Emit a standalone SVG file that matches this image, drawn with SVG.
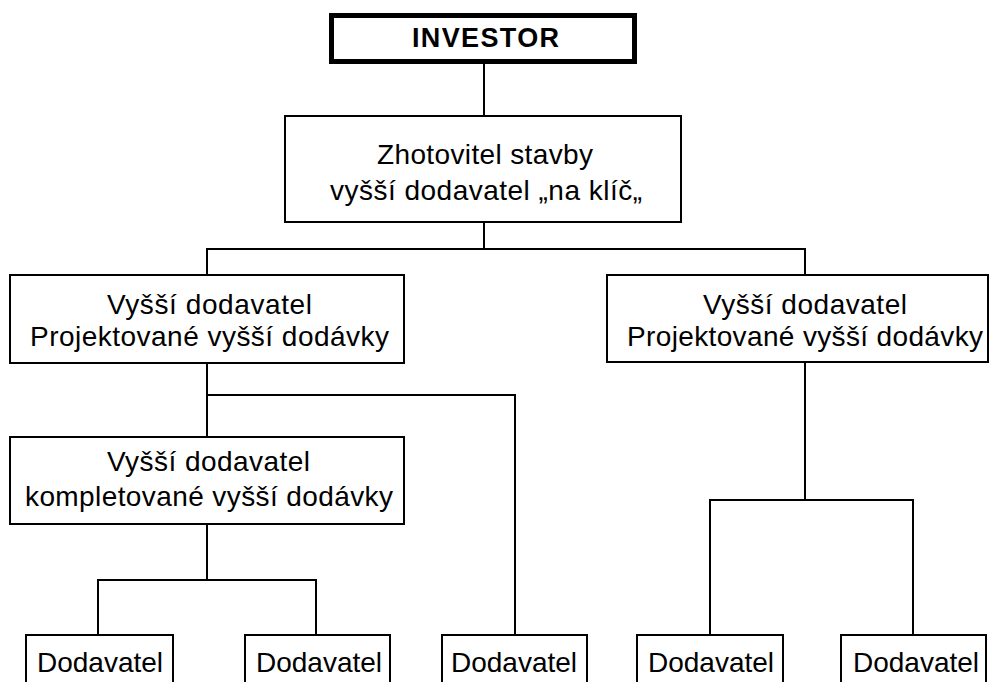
<svg xmlns="http://www.w3.org/2000/svg" width="990" height="682" viewBox="0 0 990 682">
  <style>
    .box { fill: #ffffff; stroke: #000000; stroke-width: 2; }
    .box-main { fill: #ffffff; stroke: #000000; stroke-width: 5; }
    .lbl { font-family: "Liberation Sans", Arial, sans-serif; font-size: 28px; fill: #000000; text-anchor: middle; }
    .lbl-bold { font-family: "Liberation Sans", Arial, sans-serif; font-size: 27px; font-weight: bold; fill: #000000; text-anchor: middle; }
    .conn { fill: none; stroke: #000000; stroke-width: 2; }
  </style>
  <rect x="0" y="0" width="990" height="682" fill="#ffffff"/>

  <!-- connectors -->
  <g id="connectors">
    <path class="conn" d="M484 64 V116"/>
    <path class="conn" d="M484 222 V249 M207 275 V249 H805 V275"/>
    <path class="conn" d="M207 363 V437 M207 395 H515 V635"/>
    <path class="conn" d="M207 524 V580 M98 635 V580 H316 V635"/>
    <path class="conn" d="M805 362 V500 M710 635 V500 H913 V635"/>
  </g>

  <g id="investor">
    <rect class="box-main" x="331.5" y="15.5" width="303" height="46"/>
    <text class="lbl-bold" x="485.5" y="47" textLength="147" lengthAdjust="spacing">INVESTOR</text>
  </g>

  <g id="zhotovitel">
    <rect class="box" x="285" y="116" width="396" height="106"/>
    <text class="lbl" x="485" y="164" textLength="216" lengthAdjust="spacing">Zhotovitel stavby</text>
    <text class="lbl" x="486" y="200" textLength="312" lengthAdjust="spacing">vyšší dodavatel „na klíč„</text>
  </g>

  <g id="vyssi-left">
    <rect class="box" x="10" y="275" width="394" height="88"/>
    <text class="lbl" x="209.5" y="314" textLength="205" lengthAdjust="spacing">Vyšší dodavatel</text>
    <text class="lbl" x="209.5" y="346" textLength="359" lengthAdjust="spacing">Projektované vyšší dodávky</text>
  </g>

  <g id="vyssi-right">
    <rect class="box" x="607" y="275" width="381" height="87"/>
    <text class="lbl" x="805" y="314" textLength="204" lengthAdjust="spacing">Vyšší dodavatel</text>
    <text class="lbl" x="805" y="346" textLength="356" lengthAdjust="spacing">Projektované vyšší dodávky</text>
  </g>

  <g id="vyssi-kompletovane">
    <rect class="box" x="10" y="437" width="394" height="87"/>
    <text class="lbl" x="208.5" y="471" textLength="203" lengthAdjust="spacing">Vyšší dodavatel</text>
    <text class="lbl" x="209" y="506" textLength="368" lengthAdjust="spacing">kompletované vyšší dodávky</text>
  </g>

  <g id="dodavatel-1">
    <rect class="box" x="26" y="635" width="147" height="60"/>
    <text class="lbl" x="100" y="672">Dodavatel</text>
  </g>
  <g id="dodavatel-2">
    <rect class="box" x="245" y="635" width="145" height="60"/>
    <text class="lbl" x="319" y="672">Dodavatel</text>
  </g>
  <g id="dodavatel-3">
    <rect class="box" x="442" y="635" width="145" height="60"/>
    <text class="lbl" x="514" y="672">Dodavatel</text>
  </g>
  <g id="dodavatel-4">
    <rect class="box" x="637" y="635" width="146" height="60"/>
    <text class="lbl" x="711" y="672">Dodavatel</text>
  </g>
  <g id="dodavatel-5">
    <rect class="box" x="841" y="635" width="145" height="60"/>
    <text class="lbl" x="916" y="672">Dodavatel</text>
  </g>
</svg>
